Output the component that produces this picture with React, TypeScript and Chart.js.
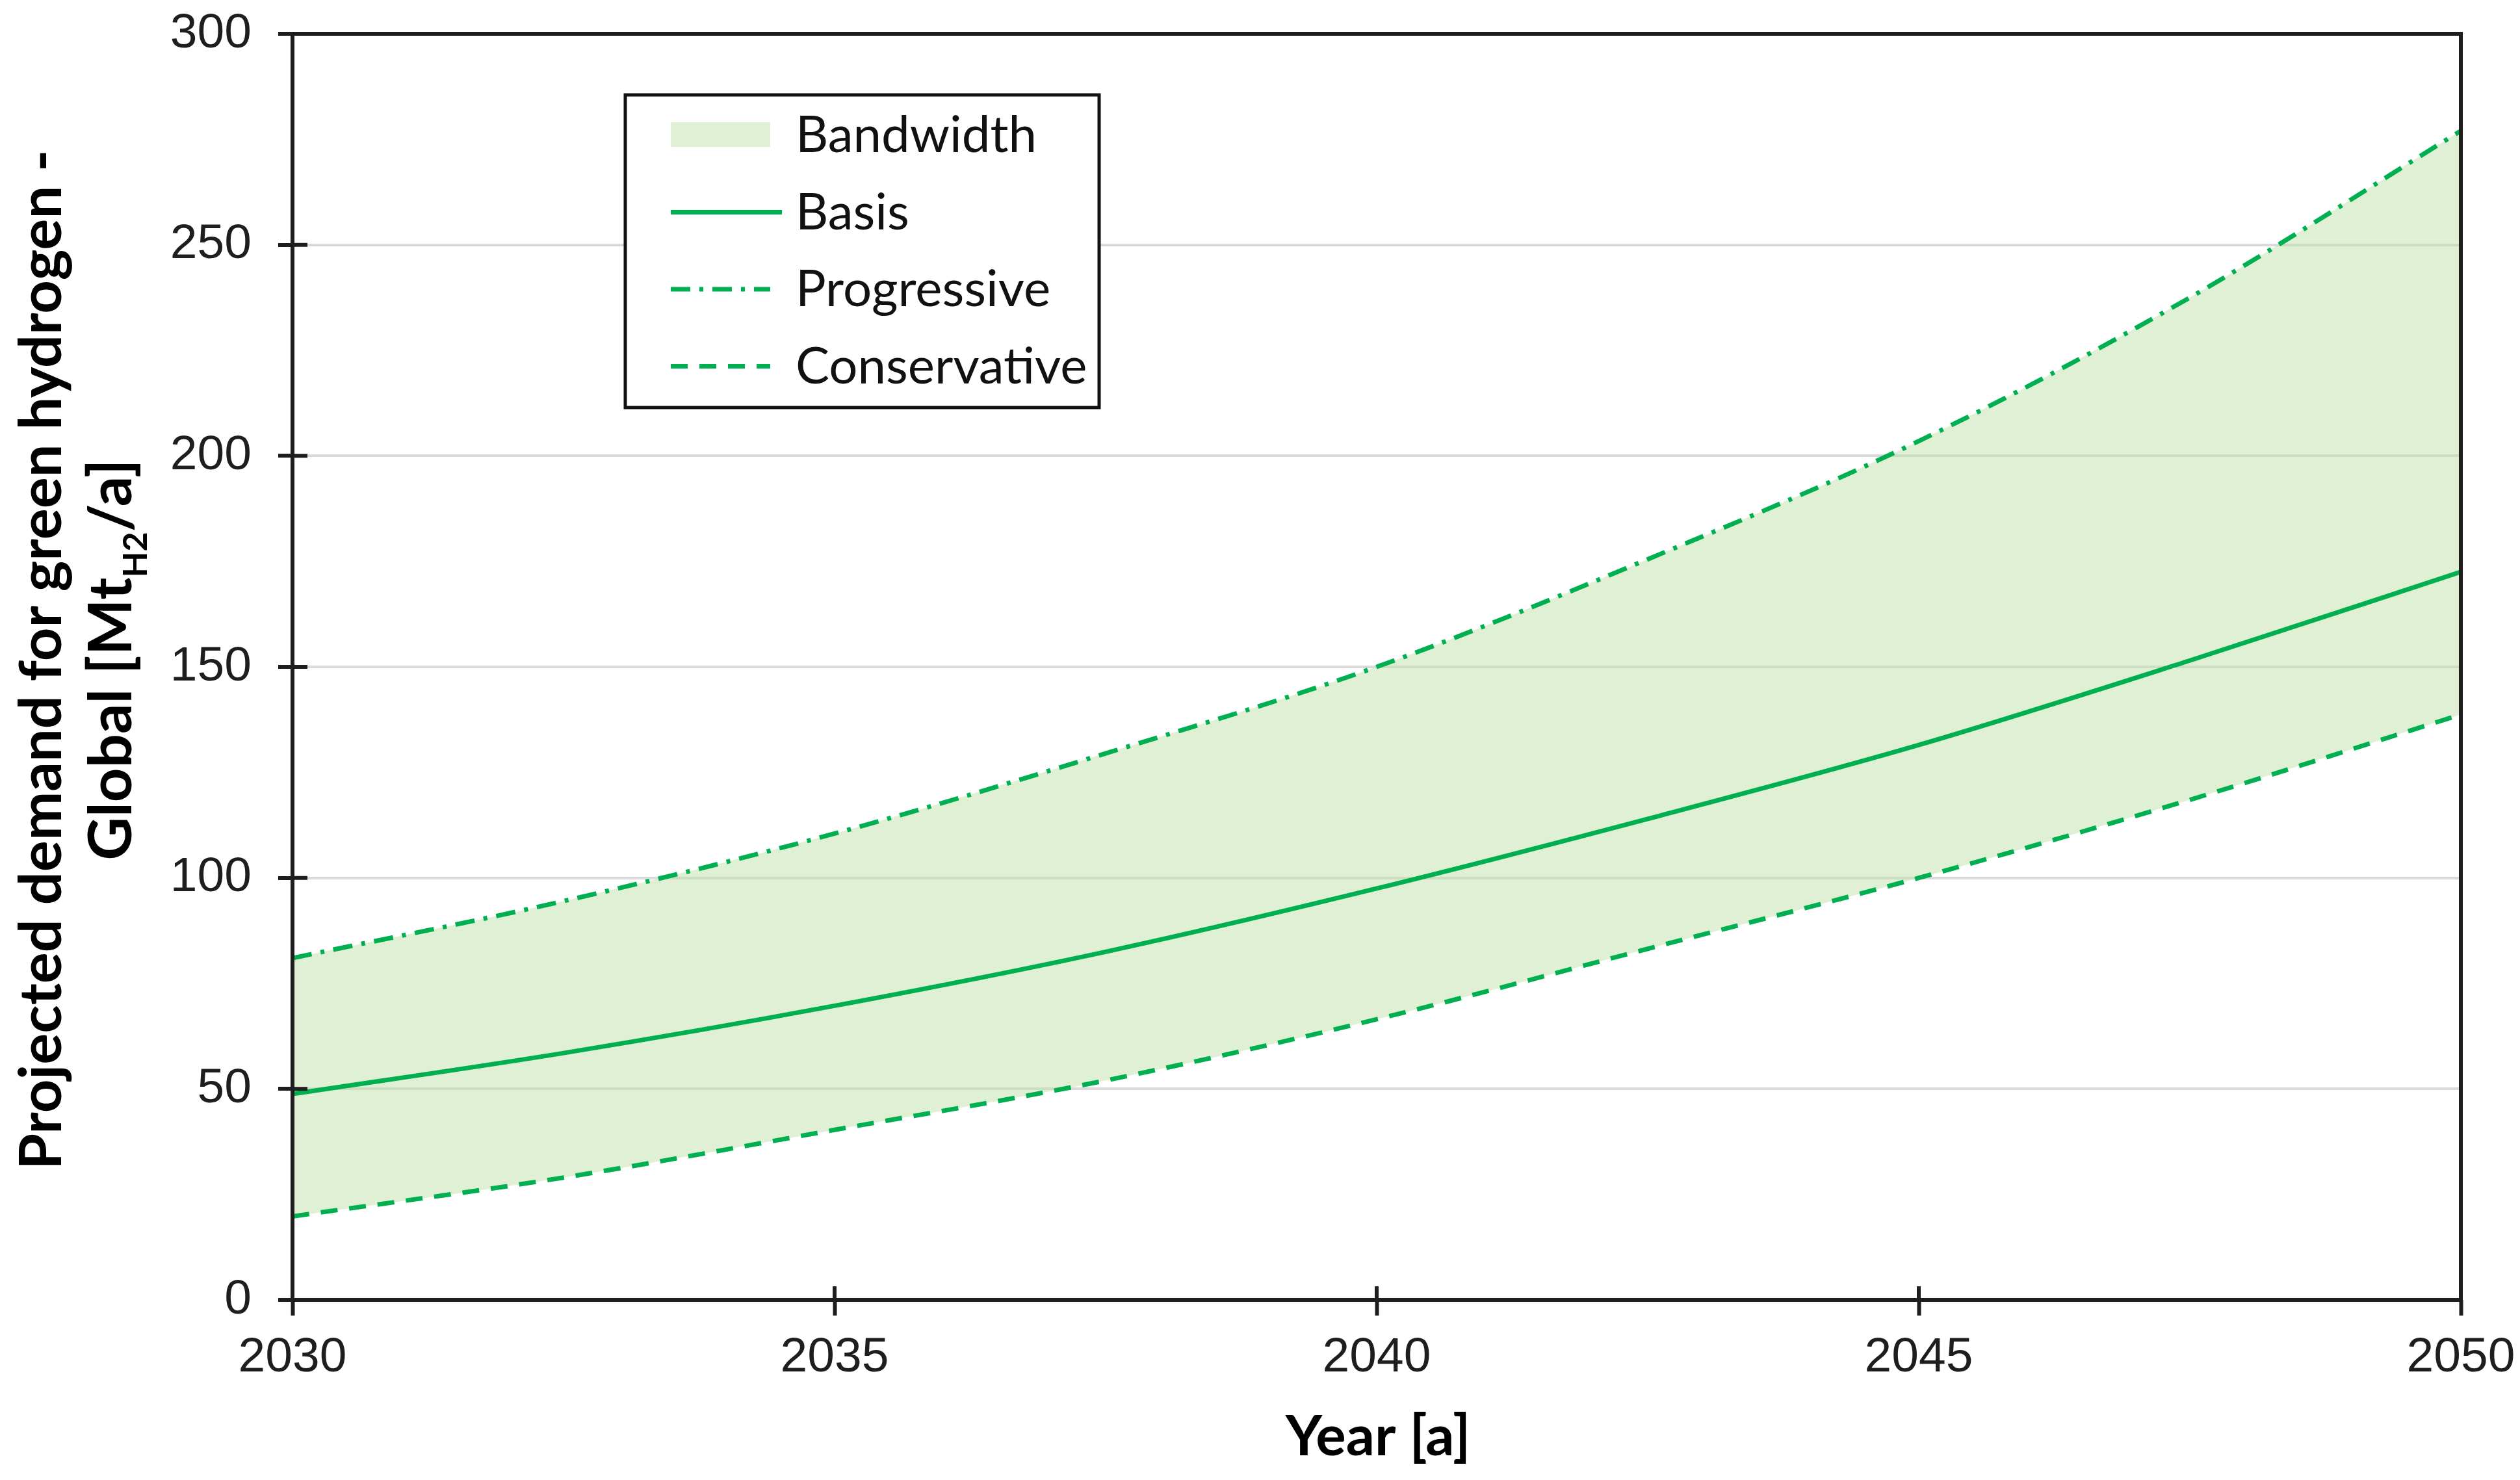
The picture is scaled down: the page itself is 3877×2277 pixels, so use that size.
import React, { useEffect, useRef } from 'react';
import { Chart, registerables } from 'chart.js';

Chart.register(...registerables);

// ---------- data ----------
const years = [2030, 2032.5, 2035, 2037.5, 2040, 2042.5, 2045, 2047.5, 2050];
const progressive = [81, 94.5, 110.5, 129.5, 150, 175.5, 203.5, 237.5, 277];
const basis = [48.8, 58.5, 69.7, 82.5, 97.5, 114, 131.5, 151.5, 172.5];
const conservative = [19.8, 29, 40.3, 52, 66.5, 83.2, 100, 118.5, 138.7];
const xTickValues = [2030, 2035, 2040, 2045, 2050];
const yTickValues = [0, 50, 100, 150, 200, 250, 300];
const legendLabels = ['Bandwidth', 'Basis', 'Progressive', 'Conservative'];
const xTitle = 'Year [a]';
const yTitleLine1 = 'Projected demand for green hydrogen -';
const yTitleLine2 = ['Global [Mt', 'H2', '/a]'];

// ---------- styles ----------
const GREEN = '#00b050';
const FILL = 'rgba(191,225,169,0.5)';
const AXIS = '#1e1e1e';
const GRID = '#d9d9d9';
const TICK_FONT = "'Liberation Sans', Arial, sans-serif";
const TITLE_FONT = "Lato, 'Open Sans', sans-serif";
const DASH_PROG = [30, 14, 6, 14];
const DASH_CONS = [26, 18];

const decorPlugin = {
  id: 'decor',
  afterDatasetsDraw(chart: any) {
    const { ctx, chartArea: a, scales } = chart;
    ctx.save();
    ctx.strokeStyle = AXIS;
    ctx.lineWidth = 6;
    ctx.lineCap = 'square';
    ctx.beginPath();
    ctx.moveTo(a.left, a.bottom);
    ctx.lineTo(a.left, a.top);
    ctx.lineTo(a.right, a.top);
    ctx.lineTo(a.right, a.bottom);
    ctx.closePath();
    ctx.stroke();
    // inner part of the crossing tick marks
    ctx.lineCap = 'butt';
    ctx.beginPath();
    scales.y.ticks.forEach((t: any) => {
      const y = scales.y.getPixelForValue(t.value);
      ctx.moveTo(a.left, y);
      ctx.lineTo(a.left + 23, y);
    });
    scales.x.ticks.forEach((t: any) => {
      const x = scales.x.getPixelForValue(t.value);
      ctx.moveTo(x, a.bottom);
      ctx.lineTo(x, a.bottom - 21);
    });
    ctx.stroke();
    ctx.restore();
  },
  afterDraw(chart: any) {
    const { ctx, chartArea: a } = chart;
    const ds = chart.data.datasets;
    ctx.save();

    // ----- legend -----
    const bx = a.left + 512;
    const by = a.top + 94;
    const bw = 729;
    const bh = 481;
    ctx.fillStyle = '#ffffff';
    ctx.fillRect(bx, by, bw, bh);
    ctx.strokeStyle = '#111111';
    ctx.lineWidth = 5;
    ctx.strokeRect(bx, by, bw, bh);

    const sx0 = bx + 70;
    const sx1 = bx + 223;
    const textX = bx + 262;
    ctx.font = `78px ${TITLE_FONT}`;
    ctx.textAlign = 'left';
    ctx.textBaseline = 'alphabetic';
    const order = [1, 0, 2]; // Basis, Progressive, Conservative
    legendLabels.forEach((label, i) => {
      const base = by + 88 + i * 118.5;
      const cy = base - 26;
      if (i === 0) {
        ctx.fillStyle = ds[0].backgroundColor;
        ctx.fillRect(sx0, base - 46, sx1 - sx0, 38);
      } else {
        const d = ds[order[i - 1]];
        ctx.strokeStyle = d.borderColor;
        ctx.lineWidth = 7;
        ctx.lineCap = 'butt';
        ctx.setLineDash(d.borderDash || []);
        ctx.beginPath();
        ctx.moveTo(sx0, cy);
        ctx.lineTo(i === 1 ? sx1 + 18 : sx1, cy);
        ctx.stroke();
        ctx.setLineDash([]);
      }
      ctx.fillStyle = '#111111';
      ctx.fillText(label, textX, base);
    });

    // ----- x title -----
    ctx.fillStyle = '#000000';
    ctx.font = `bold 87px ${TITLE_FONT}`;
    ctx.textAlign = 'center';
    ctx.fillText(xTitle, (a.left + a.right) / 2 + 2, 2239);

    // ----- y title (two lines, rotated) -----
    const cyT = 1015;
    ctx.save();
    ctx.translate(94, cyT);
    ctx.rotate(-Math.PI / 2);
    ctx.textAlign = 'center';
    ctx.font = `bold 90px ${TITLE_FONT}`;
    ctx.fillText(yTitleLine1, 0, 0);
    ctx.restore();

    ctx.save();
    ctx.translate(202, cyT);
    ctx.rotate(-Math.PI / 2);
    ctx.textAlign = 'left';
    const mainFont = `bold 92px ${TITLE_FONT}`;
    const subFont = `bold 52px ${TITLE_FONT}`;
    ctx.font = mainFont;
    const w1 = ctx.measureText(yTitleLine2[0]).width;
    const w3 = ctx.measureText(yTitleLine2[2]).width;
    ctx.font = subFont;
    const w2 = ctx.measureText(yTitleLine2[1]).width;
    let x = -(w1 + w2 + w3) / 2;
    ctx.font = mainFont;
    ctx.fillText(yTitleLine2[0], x, 0);
    x += w1;
    ctx.font = subFont;
    ctx.fillText(yTitleLine2[1], x, 24);
    x += w2;
    ctx.font = mainFont;
    ctx.fillText(yTitleLine2[2], x, 0);
    ctx.restore();

    ctx.restore();
  },
};

export default function App() {
  const canvasRef = useRef<HTMLCanvasElement | null>(null);

  useEffect(() => {
    if (!canvasRef.current) return;
    const pts = (vals: number[]) => years.map((x, i) => ({ x, y: vals[i] }));
    const chart = new Chart(canvasRef.current, {
      type: 'line',
      data: {
        datasets: [
          {
            label: 'Progressive',
            data: pts(progressive),
            borderColor: GREEN,
            borderWidth: 7,
            borderDash: DASH_PROG,
            backgroundColor: FILL,
            fill: { target: 2 },
            cubicInterpolationMode: 'monotone',
            pointRadius: 0,
          },
          {
            label: 'Basis',
            data: pts(basis),
            borderColor: GREEN,
            borderWidth: 7,
            borderDash: [],
            fill: false,
            cubicInterpolationMode: 'monotone',
            pointRadius: 0,
          },
          {
            label: 'Conservative',
            data: pts(conservative),
            borderColor: GREEN,
            borderWidth: 7,
            borderDash: DASH_CONS,
            fill: false,
            cubicInterpolationMode: 'monotone',
            pointRadius: 0,
          },
        ],
      },
      options: {
        animation: false,
        responsive: true,
        maintainAspectRatio: false,
        devicePixelRatio: 1,
        layout: { padding: { top: 52, right: 91, bottom: 0, left: 0 } },
        plugins: {
          legend: { display: false },
          tooltip: { enabled: false },
          filler: { drawTime: 'beforeDatasetsDraw' },
        } as any,
        scales: {
          x: {
            type: 'linear',
            min: 2030,
            max: 2050,
            afterBuildTicks: (s: any) => {
              s.ticks = xTickValues.map((v) => ({ value: v }));
            },
            afterFit: (s: any) => {
              s.height = 277;
              s.paddingLeft = 0;
              s.paddingRight = 0;
            },
            border: { display: false },
            grid: {
              drawOnChartArea: false,
              drawTicks: true,
              tickLength: 24,
              tickWidth: 6,
              tickColor: AXIS,
            },
            ticks: {
              padding: 20,
              color: AXIS,
              font: { family: TICK_FONT, size: 75 },
              maxRotation: 0,
              autoSkip: false,
              callback: (v: any) => String(v),
            },
          },
          y: {
            min: 0,
            max: 300,
            afterBuildTicks: (s: any) => {
              s.ticks = yTickValues.map((v) => ({ value: v }));
            },
            afterFit: (s: any) => {
              s.width = 450;
              s.paddingTop = 0;
              s.paddingBottom = 0;
            },
            border: { display: false },
            grid: {
              color: GRID,
              lineWidth: 4,
              drawTicks: true,
              tickLength: 22,
              tickWidth: 6,
              tickColor: AXIS,
            },
            ticks: {
              padding: 41,
              color: AXIS,
              font: { family: TICK_FONT, size: 75 },
              callback: (v: any) => String(v),
            },
          },
        },
      } as any,
      plugins: [decorPlugin],
    });
    return () => chart.destroy();
  }, []);

  return (
    <div style={{ position: 'fixed', left: 0, top: 0, width: 3877, height: 2277, background: '#ffffff' }}>
      <canvas ref={canvasRef} />
    </div>
  );
}
